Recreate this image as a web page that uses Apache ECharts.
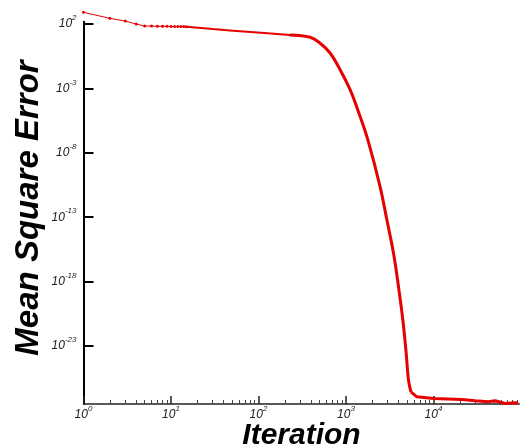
<!DOCTYPE html>
<html>
<head>
<meta charset="utf-8">
<script src="https://cdn.jsdelivr.net/npm/echarts@6/dist/echarts.min.js"></script>
<style>
html,body{margin:0;padding:0;background:#fff;}
#chart{width:520px;height:447px;}
</style>
</head>
<body>
<div id="chart"></div>
<script>
// ---- data (iteration, mean square error) ----
const earlyIterations = [1, 2, 3, 4, 5, 6, 7, 8, 9, 10, 11, 12, 13, 14, 15];
const earlyMSE = [813, 275, 170, 100, 70, 69, 68, 67, 66, 65, 64.5, 64, 63.5, 63, 62];

const midIterations = [15, 30, 74, 229];
const midMSE = [62, 40.7, 25.1, 14.1];

const mainIterations = [229, 389, 507, 661, 859, 1117, 1452, 1778, 2455, 2931, 3491, 3981, 4467, 4875, 5176, 5521];
const mainMSE = [14.1, 9.3, 3.24, 0.54, 0.027, 7.6e-4, 6.3e-6, 1e-7, 2.3e-11, 6.3e-14, 1.6e-16, 4e-19, 1e-21, 2.7e-24, 2.3e-26, 2.8e-27];

const tailIterations = [5521, 6457, 10000, 21100, 30000, 42200, 50700, 66100, 85100, 93000];
const tailMSE = [2.8e-27, 1.15e-27, 8.5e-28, 7.2e-28, 5.6e-28, 4.7e-28, 5.6e-28, 3.5e-28, 4e-28, 3.8e-28];

// tick exponents
const xMajorExp = [0, 1, 2, 3, 4];
const xMinorMultipliers = [2, 3, 4, 5, 6, 7, 8, 9];
const yTickExp = [2, -3, -8, -13, -18, -23];

const xMinorExp = [];
xMajorExp.forEach(d => xMinorMultipliers.forEach(k => xMinorExp.push(d + Math.log10(k))));

const toLog = (xs, ys) => xs.map((x, i) => [Math.log10(x), Math.log10(ys[i])]);

const RED = '#e60000';
const FONT = '"Liberation Sans", Arial, sans-serif';
const rich = {
  b: { fontSize: 12, fontStyle: 'italic', fontFamily: FONT, color: '#222', lineHeight: 20 },
  s: { fontSize: 8, fontStyle: 'italic', fontFamily: FONT, color: '#222', verticalAlign: 'top', lineHeight: 9 }
};
const expFmt = v => '{b|10}{s|' + Math.round(v) + '}';

const chart = echarts.init(document.getElementById('chart'), null, { renderer: 'canvas' });
chart.setOption({
  animation: false,
  backgroundColor: '#fff',
  grid: { left: 83.5, right: 0.75, top: 21.7, bottom: 43, containLabel: false },
  xAxis: [
    {
      type: 'value', min: 0, max: 4.98, position: 'bottom',
      axisLine: { show: true, onZero: false, lineStyle: { color: '#222', width: 1.5 } },
      splitLine: { show: false },
      axisTick: { show: true, inside: true, length: 8, lineStyle: { color: '#222', width: 1.5 }, customValues: xMajorExp },
      axisLabel: { show: true, customValues: xMajorExp, formatter: expFmt, rich: rich, margin: 1 }
    },
    {
      type: 'value', min: 0, max: 4.98, position: 'bottom', offset: 0,
      axisLine: { show: false, onZero: false },
      splitLine: { show: false },
      axisTick: { show: true, inside: true, length: 4, lineStyle: { color: '#444', width: 1 }, customValues: xMinorExp },
      axisLabel: { show: false }
    }
  ],
  yAxis: {
    type: 'value', min: -27.5, max: 2.18,
    axisLine: { show: true, onZero: false, lineStyle: { color: '#000', width: 2 } },
    splitLine: { show: false },
    axisTick: { show: true, inside: true, length: 10, lineStyle: { color: '#000', width: 2 }, customValues: yTickExp },
    axisLabel: { show: true, customValues: yTickExp, formatter: expFmt, rich: rich, margin: 7 }
  },
  graphic: [
    {
      type: 'text', x: 301.5, y: 451,
      style: { text: 'Iteration', font: 'italic bold 30px ' + FONT, fill: '#000', textAlign: 'center', textVerticalAlign: 'bottom' }
    },
    {
      type: 'text', x: 29, y: 208, rotation: Math.PI / 2,
      style: { text: 'Mean Square Error', font: 'italic bold 33px ' + FONT, fill: '#000', textAlign: 'center', textVerticalAlign: 'middle' }
    }
  ],
  series: [
    {
      type: 'line', xAxisIndex: 0, data: toLog(earlyIterations, earlyMSE), clip: false,
      showSymbol: true, symbol: 'circle', symbolSize: 3,
      itemStyle: { color: RED }, lineStyle: { color: RED, width: 1 }
    },
    {
      type: 'line', xAxisIndex: 0, data: toLog(midIterations, midMSE), clip: false,
      showSymbol: false, smooth: 0.4,
      lineStyle: { color: RED, width: 2 }
    },
    {
      type: 'line', xAxisIndex: 0, data: toLog(mainIterations, mainMSE), clip: false,
      showSymbol: false, smooth: 0.4,
      lineStyle: { color: RED, width: 3 }
    },
    {
      type: 'line', xAxisIndex: 0, data: toLog(tailIterations, tailMSE), clip: false,
      showSymbol: false, smooth: false,
      lineStyle: { color: RED, width: 3 }
    }
  ]
});
</script>
</body>
</html>
